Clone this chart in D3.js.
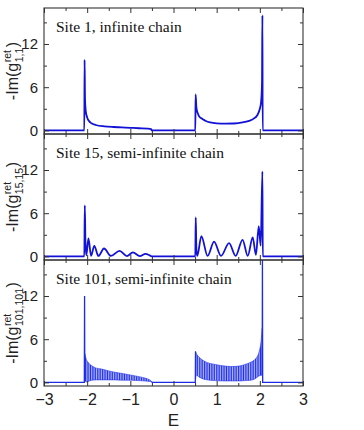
<!DOCTYPE html>
<html>
<head>
<meta charset="utf-8">
<script src="https://cdn.jsdelivr.net/npm/d3@7"></script>
<style>
  body { margin: 0; background: #fff; }
</style>
</head>
<body>
<div id="chart"></div>
<script>
// tick values
const energyTicks = [-3, -2, -1, 0, 1, 2, 3];
const energyMinor = [-2.5, -1.5, -0.5, 0.5, 1.5, 2.5];
const gTicks = [0, 6, 12];
const gMinor = [3, 9, 15];

const titles = ["Site 1, infinite chain", "Site 15, semi-infinite chain", "Site 101, semi-infinite chain"];
const siteSubs = ["1,1", "15,15", "101,101"];

// site 1 : [E, -Im g]
const site1 = [
  [-3, 0], [-2.066, 0], [-2.06, 9.8], [-2.05, 4.4], [-2.035, 2.8], [-2.0, 1.8], [-1.95, 1.25],
  [-1.9, 0.98], [-1.8, 0.75], [-1.6, 0.56], [-1.4, 0.47], [-1.2, 0.42], [-1.0, 0.36],
  [-0.8, 0.3], [-0.6, 0.25], [-0.52, 0.18], [-0.5, 0], [0.505, 0], [0.512, 5.0], [0.53, 3.2],
  [0.56, 2.4], [0.6, 1.9], [0.67, 1.6], [0.75, 1.3], [0.85, 1.1], [1.0, 0.98], [1.2, 0.94],
  [1.4, 0.96], [1.6, 1.1], [1.75, 1.33], [1.85, 1.6], [1.94, 2.1], [2.0, 3.0], [2.03, 4.0],
  [2.05, 6.5], [2.06, 16.0], [2.066, 0], [3, 0]
];

// site 15
const site15 = [
  [-3, 0], [-2.066, 0], [-2.055, 7.1], [-2.04, 2.0], [-2.02, 0.15], [-1.97, 2.5], [-1.91, 0.08],
  [-1.835, 1.47], [-1.74, 0.06], [-1.61, 1.1], [-1.45, 0.06], [-1.25, 0.78], [-1.08, 0.05],
  [-0.94, 0.55], [-0.78, 0.05], [-0.65, 0.36], [-0.52, 0.04], [-0.5, 0], [0.505, 0],
  [0.515, 5.4], [0.53, 1.0], [0.55, 0.08], [0.646, 2.8], [0.79, 0.07], [0.94, 2.05],
  [1.1, 0.07], [1.287, 1.85], [1.44, 0.07], [1.6, 2.3], [1.72, 0.08], [1.835, 2.65],
  [1.91, 0.2], [1.975, 4.2], [2.02, 1.5], [2.06, 11.8], [2.068, 0], [3, 0]
];

// site 101 : baseline and edge spikes (null = gap, the bands are drawn as envelopes)
const site101Line = [
  [-3, 0], [-2.066, 0], [-2.06, 12.0], [-2.055, 0.3], null,
  [-0.5, 0.1], [-0.495, 0], [0.505, 0], [0.51, 4.3], null,
  [2.055, 1.0], [2.06, 17.5], [2.066, 0], [3, 0]
];
// site 101 : envelope of the dense oscillations, lower band
const site101LowE   = [-2.055, -2.02, -1.95, -1.89, -1.8, -1.66, -1.5, -1.35, -1.15, -0.97, -0.8, -0.66, -0.55, -0.5];
const site101LowMax = [4.0, 3.2, 2.6, 2.3, 2.0, 1.85, 1.6, 1.4, 1.2, 1.0, 0.8, 0.6, 0.35, 0.1];
const site101LowMin = [0.3, 0.05, 0.2, 0.3, 0.35, 0.35, 0.35, 0.35, 0.3, 0.3, 0.25, 0.2, 0.12, 0.1];
// upper band
const site101HighE   = [0.51, 0.53, 0.58, 0.73, 0.96, 1.15, 1.35, 1.55, 1.66, 1.79, 1.89, 1.98, 2.03, 2.055];
const site101HighMax = [4.3, 4.0, 3.6, 2.9, 2.5, 2.3, 2.2, 2.3, 2.5, 2.8, 3.2, 4.2, 5.8, 7.5];
const site101HighMin = [0.4, 1.0, 0.8, 0.4, 0.25, 0.2, 0.2, 0.2, 0.25, 0.3, 0.5, 0.9, 1.0, 1.0];

const width = 364, height = 430;
const left = 44, right = 303, top0 = 8, panelH = 126;
const blue = "#1212d6";
const blue3 = "#1d2de6";
const axisColor = "#333";

const svg = d3.select("#chart").append("svg")
  .attr("width", width)
  .attr("height", height)
  .style("font-family", "'Liberation Sans', Arial, sans-serif");

// vertical hatching to look like the dense oscillations of site 101
svg.append("defs").append("pattern")
  .attr("id", "osc").attr("patternUnits", "userSpaceOnUse")
  .attr("width", 1.7).attr("height", 4)
  .append("rect").attr("width", 1.15).attr("height", 4).attr("fill", blue3);

const x = d3.scaleLinear().domain([-3, 3]).range([left, right]);

function yLabel(cx, cy, sub) {
  const outer = svg.append("g").attr("transform", `translate(${cx},${cy}) rotate(-90)`).attr("fill", "#222");
  const lab = outer.append("g");
  const main = lab.append("text").attr("font-size", 16).text("-Im(g");
  const w0 = main.node().getComputedTextLength() + 0.5;
  const sup = lab.append("text").attr("x", w0).attr("y", -7.5).attr("font-size", 10.5).text("ret");
  const sb = lab.append("text").attr("x", w0).attr("y", 4.5).attr("font-size", 10.5).text(sub);
  const w1 = w0 + Math.max(sup.node().getComputedTextLength(), sb.node().getComputedTextLength()) + 0.5;
  const close = lab.append("text").attr("x", w1).attr("font-size", 16).text(")");
  const total = w1 + close.node().getComputedTextLength();
  lab.attr("transform", `translate(${-total / 2},0)`);
}

function tickAxis(axisFn, scale, values, size) {
  return axisFn(scale).tickValues(values).tickSize(-size).tickFormat("");
}

for (let i = 0; i < 3; i++) {
  const top = top0 + i * panelH, bottom = top + panelH;
  const y = d3.scaleLinear().domain([-0.5, 17]).range([bottom, top]);
  const g = svg.append("g");

  svg.append("clipPath").attr("id", "clip" + i)
    .append("rect").attr("x", left).attr("y", top).attr("width", right - left).attr("height", panelH);

  const plot = g.append("g").attr("clip-path", `url(#clip${i})`);
  const line = d3.line().defined(d => d !== null).x(d => x(d[0])).y(d => y(d[1]));

  if (i === 0) {
    plot.append("path").datum(site1).attr("d", line.curve(d3.curveMonotoneX))
      .attr("fill", "none").attr("stroke", blue).attr("stroke-width", 1.8);
  } else if (i === 1) {
    plot.append("path").datum(site15).attr("d", line.curve(d3.curveMonotoneX))
      .attr("fill", "none").attr("stroke", blue).attr("stroke-width", 1.8);
  } else {
    const area = d3.area().x(d => x(d.e)).y0(d => y(d.lo)).y1(d => y(d.hi)).curve(d3.curveMonotoneX);
    const lowBand = site101LowE.map((e, k) => ({ e, hi: site101LowMax[k], lo: site101LowMin[k] }));
    const highBand = site101HighE.map((e, k) => ({ e, hi: site101HighMax[k], lo: site101HighMin[k] }));
    [lowBand, highBand].forEach(b => {
      plot.append("path").datum(b).attr("d", area)
        .attr("fill", "url(#osc)")
        .attr("stroke", blue3).attr("stroke-width", 0.7).attr("stroke-opacity", 0.8);
    });
    plot.append("path").datum(site101Line).attr("d", line.curve(d3.curveLinear))
      .attr("fill", "none").attr("stroke", blue3).attr("stroke-width", 1.3);
  }

  // ticks on four sides, pointing inward
  const axes = [
    [d3.axisBottom, x, energyTicks, 5, `translate(0,${bottom})`],
    [d3.axisBottom, x, energyMinor, 3, `translate(0,${bottom})`],
    [d3.axisTop, x, energyTicks, 5, `translate(0,${top})`],
    [d3.axisTop, x, energyMinor, 3, `translate(0,${top})`],
    [d3.axisLeft, y, gTicks, 5, `translate(${left},0)`],
    [d3.axisLeft, y, gMinor, 3, `translate(${left},0)`],
    [d3.axisRight, y, gTicks, 5, `translate(${right},0)`],
    [d3.axisRight, y, gMinor, 3, `translate(${right},0)`]
  ];
  axes.forEach(([fn, sc, vals, sz, tr]) => {
    const a = g.append("g").attr("transform", tr).call(tickAxis(fn, sc, vals, sz));
    a.select(".domain").remove();
    a.selectAll("line").attr("stroke", axisColor);
  });

  // y tick labels
  const yl = g.append("g").attr("transform", `translate(${left},0)`)
    .call(d3.axisLeft(y).tickValues(gTicks).tickSize(0).tickPadding(6));
  yl.select(".domain").remove();
  yl.selectAll("text").attr("font-size", 15).attr("fill", "#222").style("font-family", "'Liberation Sans', Arial, sans-serif");

  g.append("rect").attr("x", left).attr("y", top).attr("width", right - left).attr("height", panelH)
    .attr("fill", "none").attr("stroke", axisColor).attr("stroke-width", 1.1);

  g.append("text").attr("x", 56).attr("y", top + 24)
    .attr("font-family", "'Liberation Serif', 'Times New Roman', serif").attr("font-size", 15.5)
    .attr("fill", "#111").text(titles[i]);

  yLabel(18, top + panelH / 2, siteSubs[i]);

  if (i === 2) {
    const xl = g.append("g").attr("transform", `translate(0,${bottom})`)
      .call(d3.axisBottom(x).tickValues(energyTicks).tickSize(0).tickPadding(8).tickFormat(d3.format("d")));
    xl.select(".domain").remove();
    xl.selectAll("text").attr("font-size", 16).attr("fill", "#222").style("font-family", "'Liberation Sans', Arial, sans-serif");
  }
}

svg.append("text").attr("x", x(0)).attr("y", 426).attr("text-anchor", "middle")
  .attr("font-size", 17).attr("fill", "#222").text("E");
</script>
</body>
</html>
